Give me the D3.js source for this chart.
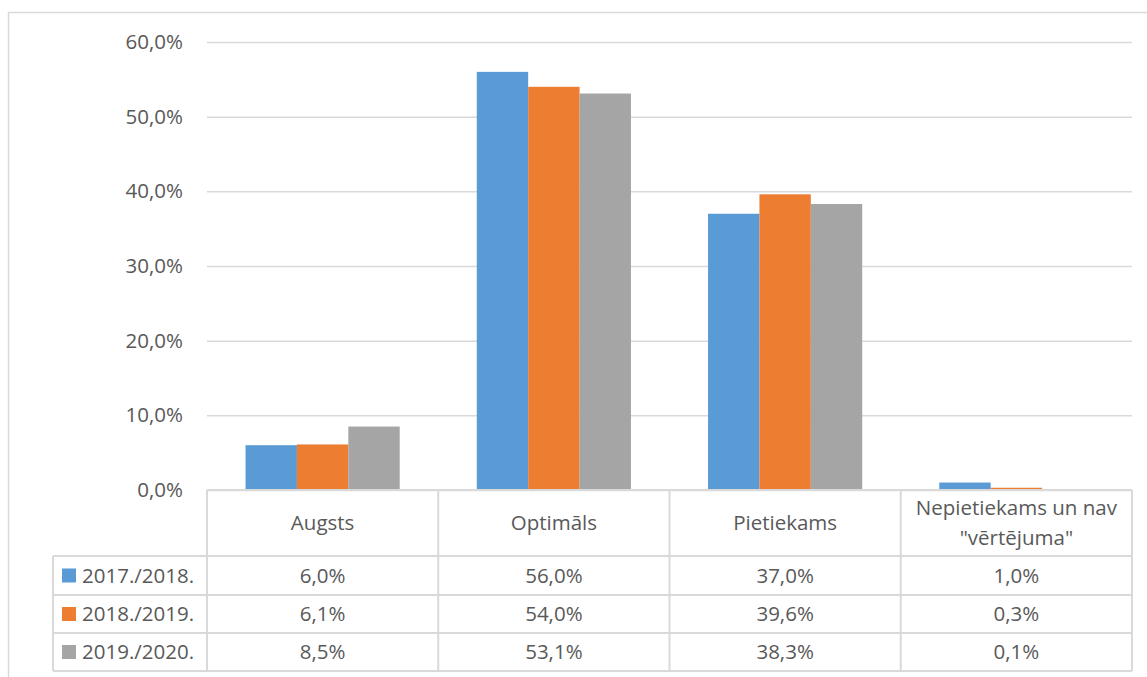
<!DOCTYPE html>
<html>
<head>
<meta charset="utf-8">
<script src="https://cdn.jsdelivr.net/npm/d3@7"></script>
<style>
  body { margin: 0; background: #fff; }
  text { font-family: "Open Sans", "Liberation Sans", sans-serif; fill: #595959; }
</style>
</head>
<body>
<div id="chart"></div>
<script>
const categories = ["Augsts", "Optimāls", "Pietiekams", "Nepietiekams un nav \"vērtējuma\""];
const headerLines = [["Augsts"], ["Optimāls"], ["Pietiekams"], ["Nepietiekams un nav", "\"vērtējuma\""]];
const seriesNames = ["2017./2018.", "2018./2019.", "2019./2020."];
const values2017 = [6.0, 56.0, 37.0, 1.0];
const values2018 = [6.1, 54.0, 39.6, 0.3];
const values2019 = [8.5, 53.1, 38.3, 0.1];
const yTicks = [0, 10, 20, 30, 40, 50, 60];
const colors = ["#5B9BD5", "#ED7D31", "#A5A5A5"];

const width = 1147, height = 677;
const plotLeft = 207, plotRight = 1132, plotTop = 42, plotBottom = 490;
const tableLeft = 53;
const rowLines = [490, 556, 595, 633, 671];
const gridColor = "#D9D9D9";
const fontSize = "20.5px";

const series = seriesNames.map((name, i) => ({
    name: name,
    color: colors[i],
    values: [values2017, values2018, values2019][i]
}));

const fmt = v => v.toFixed(1).replace(".", ",") + "%";

let svg = d3.select("#chart")
    .append("svg")
    .attr("width", width)
    .attr("height", height);

// chart frame
svg.append("rect")
    .attr("x", 8.5)
    .attr("y", 12.5)
    .attr("width", 1160)
    .attr("height", 700)
    .attr("fill", "none")
    .attr("stroke", gridColor)
    .attr("stroke-width", 1.5);

let x0 = d3.scaleBand()
    .domain(categories)
    .range([plotLeft, plotRight])
    .padding(0);

// gap width 150% of a bar
let bw = x0.bandwidth() / 4.5;
let x1 = d3.scaleBand()
    .domain(seriesNames)
    .range([bw * 0.75, x0.bandwidth() - bw * 0.75])
    .padding(0);

let y = d3.scaleLinear()
    .domain([0, 60])
    .range([plotBottom, plotTop]);

let yAxis = svg.append("g")
    .attr("transform", `translate(${plotLeft}, 0)`)
    .call(d3.axisLeft(y)
        .tickValues(yTicks)
        .tickSize(-(plotRight - plotLeft))
        .tickPadding(24)
        .tickFormat(d => d.toFixed(1).replace(".", ",") + "%"));

yAxis.select(".domain").remove();
yAxis.selectAll(".tick line")
    .attr("stroke", gridColor)
    .attr("stroke-width", 1.5);
yAxis.selectAll(".tick text")
    .style("font-size", fontSize)
    .attr("fill", "#595959");

// bars
let groups = svg.append("g")
    .selectAll("g")
    .data(series)
    .enter()
    .append("g")
    .attr("fill", d => d.color);

groups.selectAll("rect")
    .data(s => s.values.map((v, i) => ({ name: s.name, cat: categories[i], value: v })))
    .enter()
    .append("rect")
    .attr("x", d => x0(d.cat) + x1(d.name))
    .attr("y", d => y(d.value))
    .attr("width", x1.bandwidth())
    .attr("height", d => plotBottom - y(d.value));

// data table
let table = svg.append("g")
    .attr("stroke", gridColor)
    .attr("stroke-width", 2)
    .attr("fill", "none");

// horizontal lines
table.append("line")
    .attr("x1", plotLeft).attr("x2", plotRight)
    .attr("y1", rowLines[0]).attr("y2", rowLines[0]);
rowLines.slice(1).forEach(yy => {
    table.append("line")
        .attr("x1", tableLeft).attr("x2", plotRight)
        .attr("y1", yy).attr("y2", yy);
});

// vertical lines
table.append("line")
    .attr("x1", tableLeft).attr("x2", tableLeft)
    .attr("y1", rowLines[1]).attr("y2", rowLines[4]);
categories.concat([null]).forEach((c, i) => {
    let xx = c === null ? plotRight : x0(c);
    table.append("line")
        .attr("x1", xx).attr("x2", xx)
        .attr("y1", rowLines[0]).attr("y2", rowLines[4]);
});

// header labels
categories.forEach((c, i) => {
    let lines = headerLines[i];
    let cy = (rowLines[0] + rowLines[1]) / 2;
    lines.forEach((ln, j) => {
        svg.append("text")
            .attr("x", x0(c) + x0.bandwidth() / 2)
            .attr("y", cy + (j - (lines.length - 1) / 2) * 30)
            .attr("dy", "0.35em")
            .attr("text-anchor", "middle")
            .style("font-size", fontSize)
            .text(ln);
    });
});

// table rows
series.forEach((s, r) => {
    let cy = (rowLines[r + 1] + rowLines[r + 2]) / 2;
    svg.append("rect")
        .attr("x", 62)
        .attr("y", cy - 7)
        .attr("width", 14)
        .attr("height", 14)
        .attr("fill", s.color);
    svg.append("text")
        .attr("x", 82)
        .attr("y", cy)
        .attr("dy", "0.35em")
        .style("font-size", fontSize)
        .text(s.name);
    s.values.forEach((v, i) => {
        svg.append("text")
            .attr("x", x0(categories[i]) + x0.bandwidth() / 2)
            .attr("y", cy)
            .attr("dy", "0.35em")
            .attr("text-anchor", "middle")
            .style("font-size", fontSize)
            .text(fmt(v));
    });
});
</script>
</body>
</html>
